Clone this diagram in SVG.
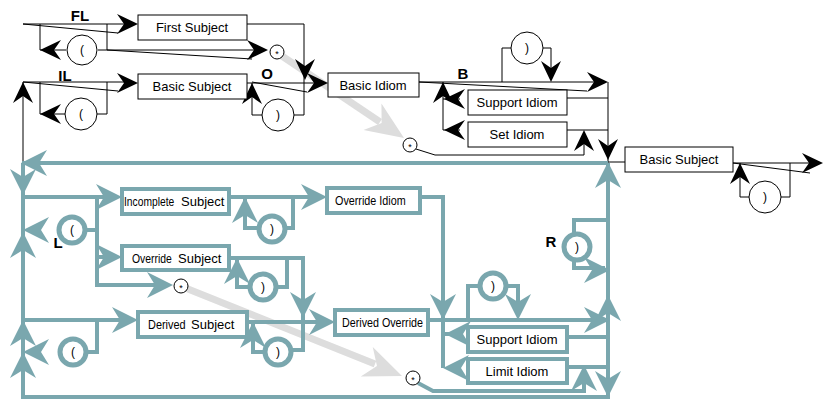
<svg xmlns="http://www.w3.org/2000/svg" width="823" height="400" viewBox="0 0 823 400">
<style>
.k{stroke:#000;stroke-width:1;fill:none}
.t{stroke:#7aa7ae;stroke-width:4;fill:none}
.g{stroke:#dddddd;stroke-width:7;fill:none}
.kb{fill:#fff;stroke:#000;stroke-width:1}
.tb{fill:#fff;stroke:#7aa7ae;stroke-width:4}
.kc{fill:#fff;stroke:#000;stroke-width:1}
.tc{fill:#fff;stroke:#7aa7ae;stroke-width:5}
text{font-family:"Liberation Sans",Arial,sans-serif;font-size:13px;fill:#000;text-anchor:middle}
.st{text-anchor:start}
.lb{font-weight:bold;font-size:15px}
.p{font-size:12px}
.s{font-size:9px}
.ak{fill:#000}
.at{fill:#7aa7ae}
.ag{fill:#dddddd}
</style>
<defs>
<path id="hk" d="M0,0 L-21,-10 L-14,0 L-21,10 Z"/>
<path id="ht" d="M0,0 L-26,-13 L-18,0 L-26,13 Z"/>
<path id="hg" d="M0,0 L-38,-16 L-27,0 L-38,16 Z"/>
</defs>

<g id="gray">
<path class="g" d="M279,54 L380,122"/>
<use href="#hg" class="ag" transform="translate(404,138) rotate(34)"/>
<path class="g" d="M183,287 L375,364"/>
<use href="#hg" class="ag" transform="translate(402,376) rotate(22)"/>
</g>

<g id="connectors">
<g id="black-lines">
<path class="k" d="M23,24 H130 M23,24 L118,33 M40,24 V50 H66 M98,50 H107 V24 M107,50 H262 M107,50 L252,59"/>
<path class="k" d="M247,24 H304 V115 H294"/>
<path class="k" d="M23,163 V82 H130 M23,82 L118,91 M40,82 V114 H65 M97,114 H107 V82"/>
<path class="k" d="M247,83 H320 M252,82 L307,92 M252,83 V115 H262"/>
<path class="k" d="M419,82 H600 M419,82 L587,91 M502,82 V48 H511 M543,48 H551 V78"/>
<path class="k" d="M567,98 H608 M567,130 H608 M443,82 V130 H460 M443,99 H460 M608,82 V163"/>
<path class="k" d="M416,149 L435,155 H584 V135"/>
<path class="k" d="M608,162 H625 M733,163 H815 M733,163 L810,173 M740,163 V197 H749 M781,197 H790 V163"/>
</g>
<g id="black-heads" class="ak">
<use href="#hk" transform="translate(138,24)"/>
<use href="#hk" transform="translate(268,50)"/>
<use href="#hk" transform="translate(40,50) rotate(180)"/>
<use href="#hk" transform="translate(305,80) rotate(90)"/>
<use href="#hk" transform="translate(23,82) rotate(-90)"/>
<use href="#hk" transform="translate(138,83)"/>
<use href="#hk" transform="translate(40,114) rotate(180)"/>
<use href="#hk" transform="translate(252,83) rotate(-90)"/>
<use href="#hk" transform="translate(328,83)"/>
<use href="#hk" transform="translate(608,82)"/>
<use href="#hk" transform="translate(551,82) rotate(90)"/>
<use href="#hk" transform="translate(444,99) rotate(180)"/>
<use href="#hk" transform="translate(443,82) rotate(-90)"/>
<use href="#hk" transform="translate(444,130) rotate(180)"/>
<use href="#hk" transform="translate(584,130) rotate(-90)"/>
<use href="#hk" transform="translate(608,160) rotate(90)"/>
<use href="#hk" transform="translate(740,163) rotate(-90)"/>
<use href="#hk" transform="translate(823,163)"/>
</g>
<g id="teal-lines">
<path class="t" d="M22,163 H608 M23,163 V397 H608 V163"/>
<path class="t" d="M23,197 H115 M97,197 V285 H165 M86,230 H97 M97,257 H118"/>
<path class="t" d="M229,197 H320 M245,197 V228 H258 M287,228 H293 V197"/>
<path class="t" d="M420,197 H443 V368"/>
<path class="t" d="M229,258 H303 V350 H293 M237,258 V287 H248 M278,287 H287 V258"/>
<path class="t" d="M23,320 H130 M97,320 V352 H88"/>
<path class="t" d="M247,322 H328 M253,322 V352 H263"/>
<path class="t" d="M428,320 H605 M468,320 V286 H478 M508,286 H518 V315"/>
<path class="t" d="M567,337 H608 M443,334 H460 M567,367 H608"/>
<path class="t" d="M418,383 L433,391 H584 V370"/>
<path class="t" d="M608,220 H574 V268 H605"/>
</g>
<g id="teal-heads" class="at">
<use href="#ht" transform="translate(21,163) rotate(180)"/>
<use href="#ht" transform="translate(23,195) rotate(90)"/>
<use href="#ht" transform="translate(122,197)"/>
<use href="#ht" transform="translate(23,230) rotate(180)"/>
<use href="#ht" transform="translate(23,232) rotate(-90)"/>
<use href="#ht" transform="translate(122,257)"/>
<use href="#ht" transform="translate(173,285)"/>
<use href="#ht" transform="translate(245,197) rotate(-90)"/>
<use href="#ht" transform="translate(327,197)"/>
<use href="#ht" transform="translate(237,258) rotate(-90)"/>
<use href="#ht" transform="translate(303,318) rotate(90)"/>
<use href="#ht" transform="translate(138,320)"/>
<use href="#ht" transform="translate(23,320) rotate(-90)"/>
<use href="#ht" transform="translate(23,352) rotate(180)"/>
<use href="#ht" transform="translate(23,352) rotate(-90)"/>
<use href="#ht" transform="translate(253,322) rotate(-90)"/>
<use href="#ht" transform="translate(335,322)"/>
<use href="#ht" transform="translate(443,320) rotate(90)"/>
<use href="#ht" transform="translate(518,320) rotate(90)"/>
<use href="#ht" transform="translate(610,320)"/>
<use href="#ht" transform="translate(608,295) rotate(-90)"/>
<use href="#ht" transform="translate(445,334) rotate(180)"/>
<use href="#ht" transform="translate(443,368) rotate(180)"/>
<use href="#ht" transform="translate(584,365) rotate(-90)"/>
<use href="#ht" transform="translate(608,397) rotate(90)"/>
<use href="#ht" transform="translate(610,270)"/>
<use href="#ht" transform="translate(608,162) rotate(-90)"/>
</g>
</g>

<g id="labels">
<text class="lb" x="80" y="21">FL</text>
<text class="lb" x="65" y="81">IL</text>
<text class="lb" x="267" y="79">O</text>
<text class="lb" x="463" y="79">B</text>
<text class="lb" x="58" y="248">L</text>
<text class="lb" x="551" y="247">R</text>
</g>

<g id="first-subject"><rect class="kb" x="138" y="15" width="109" height="25"/><text x="192" y="32">First Subject</text></g>
<g id="basic-subject-1"><rect class="kb" x="138" y="74" width="109" height="25"/><text x="192" y="91">Basic Subject</text></g>
<g id="basic-idiom"><rect class="kb" x="328" y="73" width="91" height="24"/><text x="373" y="90">Basic Idiom</text></g>
<g id="support-idiom-1"><rect class="kb" x="468" y="90" width="99" height="25"/><text x="517" y="107">Support Idiom</text></g>
<g id="set-idiom"><rect class="kb" x="468" y="122" width="99" height="25"/><text x="517" y="139">Set Idiom</text></g>
<g id="basic-subject-2"><rect class="kb" x="625" y="147" width="108" height="25"/><text x="679" y="164">Basic Subject</text></g>

<g id="fl-open"><circle class="kc" cx="82" cy="50" r="15"/><text class="p" x="82" y="54">(</text></g>
<g id="il-open"><circle class="kc" cx="81" cy="114" r="16"/><text class="p" x="81" y="118">(</text></g>
<g id="o-close"><circle class="kc" cx="278" cy="115" r="16"/><text class="p" x="278" y="119">)</text></g>
<g id="star-1"><circle class="kc" cx="277" cy="52" r="7"/><text class="s" x="277" y="57">*</text></g>
<g id="b-close"><circle class="kc" cx="527" cy="48" r="16"/><text class="p" x="527" y="52">)</text></g>
<g id="star-2"><circle class="kc" cx="410" cy="145" r="7"/><text class="s" x="410" y="150">*</text></g>
<g id="end-close"><circle class="kc" cx="765" cy="197" r="16"/><text class="p" x="765" y="201">)</text></g>

<g id="incomplete-subject"><rect class="tb" x="122" y="189" width="107" height="25"/><text class="st" transform="translate(124,206) scale(0.79,1)">Incomplete</text><text class="st" x="181" y="206">Subject</text></g>
<g id="override-idiom"><rect class="tb" x="327" y="188" width="93" height="25"/><text class="st" transform="translate(335,205) scale(0.83,1)">Override Idiom</text></g>
<g id="override-subject"><rect class="tb" x="122" y="246" width="107" height="24"/><text class="st" transform="translate(132,263) scale(0.8,1)">Override</text><text class="st" x="178" y="263">Subject</text></g>
<g id="derived-subject"><rect class="tb" x="138" y="312" width="109" height="25"/><text class="st" transform="translate(148,329) scale(0.84,1)">Derived</text><text class="st" x="191" y="329">Subject</text></g>
<g id="derived-override"><rect class="tb" x="335" y="310" width="93" height="25"/><text class="st" transform="translate(342,327) scale(0.825,1)">Derived Override</text></g>
<g id="support-idiom-2"><rect class="tb" x="468" y="327" width="99" height="25"/><text x="517" y="344">Support Idiom</text></g>
<g id="limit-idiom"><rect class="tb" x="468" y="359" width="99" height="24"/><text x="517" y="376">Limit Idiom</text></g>

<g id="l-open"><circle class="tc" cx="72" cy="230" r="13"/><text class="p" x="72" y="234">(</text></g>
<g id="incomplete-close"><circle class="tc" cx="272" cy="229" r="13"/><text class="p" x="272" y="233">)</text></g>
<g id="override-close"><circle class="tc" cx="263" cy="287" r="13"/><text class="p" x="263" y="291">)</text></g>
<g id="star-3"><circle class="kc" cx="181" cy="286" r="7"/><text class="s" x="181" y="291">*</text></g>
<g id="derived-open"><circle class="tc" cx="73" cy="352" r="13"/><text class="p" x="73" y="356">(</text></g>
<g id="derived-close"><circle class="tc" cx="278" cy="352" r="13"/><text class="p" x="278" y="356">)</text></g>
<g id="support-close"><circle class="tc" cx="493" cy="286" r="13"/><text class="p" x="493" y="290">)</text></g>
<g id="r-close"><circle class="tc" cx="577" cy="247" r="13"/><text class="p" x="577" y="251">)</text></g>
<g id="star-4"><circle class="kc" cx="413" cy="378" r="7"/><text class="s" x="413" y="383">*</text></g>
</svg>
